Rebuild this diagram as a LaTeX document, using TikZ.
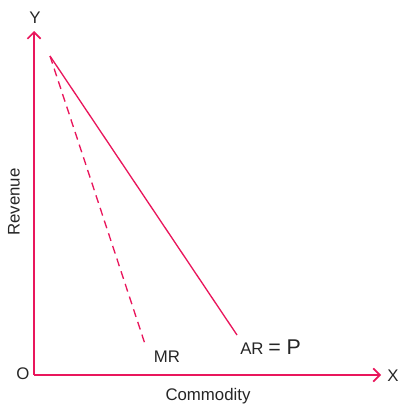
\documentclass[tikz,border=0pt]{standalone}
\usepackage{fontspec}
\setmainfont{Liberation Sans}
\usetikzlibrary{arrows.meta}
\definecolor{axispink}{RGB}{233,22,92}

\begin{document}
\begin{tikzpicture}[x=0.75pt,y=-0.75pt,>={Straight Barb[length=5pt,width=10pt,line width=1.2pt]},
  lbl/.style={font=\fontsize{12.6}{15}\selectfont,inner sep=0pt,text=black!85}]
\useasboundingbox (0,0) rectangle (399,407);
\coordinate (O) at (34,375);
\coordinate (Xend) at (381,375);
\coordinate (Yend) at (34,31);
\coordinate (top) at (50,56);
\coordinate (arend) at (237,335);
\coordinate (mrend) at (146,347);
% axes
\draw[axispink,line width=1.3pt,->] (O)--(Xend);
\draw[axispink,line width=1.3pt,->] (O)--(Yend);
% curves
\draw[axispink,line width=1pt] (top)--(arend);
\draw[axispink,line width=1pt,dash pattern=on 6pt off 4pt] (top)--(mrend);
\node[lbl] (y) at (35,18) {Y};
\node[lbl] (x) at (393,376) {X};
\node[lbl] (o) at (23,374) {O};
\node[lbl,rotate=90] (rev) at (14,202) {Revenue};
\node[lbl] (com) at (208,396) {Commodity};
\node[lbl] (mr) at (167,357) {MR};
\node[lbl,anchor=base west] (ar) at (240,354) {AR {\fontsize{16}{19}\selectfont = P}};
\end{tikzpicture}
\end{document}
